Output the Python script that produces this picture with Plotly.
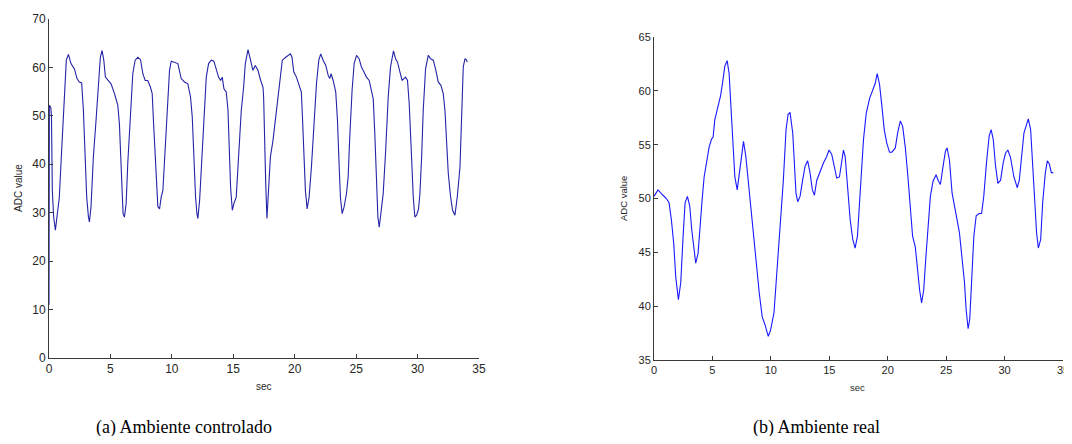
import plotly.graph_objects as go

# page body has an 8px margin: figure is placed at (8, 8) in the window
OX, OY = 8, 8
W, H = 1064, 428

# ---- Data: (a) Ambiente controlado ----
t_a = [0.0, 0.03, 0.14, 0.2, 0.27, 0.38, 0.52, 0.65, 0.84, 1.03, 1.2, 1.3, 1.41, 1.58, 1.79, 2.07, 2.28, 2.47, 2.66,
       2.8, 2.93, 3.07, 3.21, 3.29, 3.42, 3.61, 3.83, 4.02, 4.18, 4.32, 4.46, 4.59, 4.84, 5.05, 5.33, 5.6, 5.73, 5.82,
       5.92, 6.03, 6.14, 6.28, 6.41, 6.63, 6.82, 7.01, 7.23, 7.45, 7.64, 7.83, 8.04, 8.26, 8.4, 8.5, 8.64, 8.78, 8.86,
       9.0, 9.13, 9.27, 9.46, 9.62, 9.81, 9.95, 10.22, 10.49, 10.76, 11.03, 11.3, 11.52, 11.66, 11.79, 11.93, 12.04,
       12.12, 12.26, 12.39, 12.58, 12.8, 12.99, 13.21, 13.42, 13.64, 13.8, 13.97, 14.1, 14.24, 14.43, 14.57, 14.7,
       14.78, 14.92, 15.05, 15.24, 15.43, 15.65, 15.84, 15.98, 16.2, 16.39, 16.6, 16.79, 17.01, 17.23, 17.42,
       17.47, 17.55, 17.64, 17.74, 17.85, 18.02, 18.23, 18.42, 18.64, 18.83, 18.99, 19.27, 19.46, 19.65, 19.78,
       19.92, 20.14, 20.35, 20.54, 20.63, 20.73, 20.87, 21.01, 21.17, 21.36, 21.55, 21.77, 21.96, 22.12, 22.31,
       22.53, 22.72, 22.85, 22.96, 23.13, 23.34, 23.48, 23.61, 23.72, 23.86, 24.02, 24.21, 24.35, 24.48, 24.67,
       24.84, 25.03, 25.24, 25.43, 25.63, 25.84, 26.06, 26.25, 26.39, 26.52, 26.66, 26.77, 26.88, 27.01, 27.2,
       27.39, 27.61, 27.8, 27.96, 28.04, 28.21, 28.37, 28.56, 28.75, 28.89, 29.02, 29.18, 29.32, 29.51, 29.65,
       29.78, 29.92, 30.08, 30.19, 30.33, 30.46, 30.65, 30.87, 31.06, 31.28, 31.49, 31.68, 31.9, 32.09, 32.23,
       32.36, 32.5, 32.69, 32.85, 33.04, 33.23, 33.45, 33.58, 33.72, 33.86, 33.99, 34.04]
v_a = [11.0, 52.2, 51.8, 50.0, 34.6, 29.1, 26.4, 29.1, 33.2, 42.9, 51.1, 56.6, 61.5, 62.7, 60.8, 59.7, 57.7, 57.0, 56.8,
       51.1, 41.5, 33.2, 29.1, 28.1, 31.2, 41.5, 49.1, 55.9, 62.1, 63.5, 61.5, 58.0, 57.3, 56.6, 54.6, 52.2, 48.4, 42.9,
       34.6, 29.8, 29.1, 31.9, 40.1, 51.1, 58.7, 61.5, 62.1, 61.6, 58.7, 57.3, 57.3, 55.9, 54.6, 49.1, 42.2, 34.6, 31.2,
       30.8, 33.2, 34.6, 42.9, 51.8, 59.4, 61.3, 61.1, 60.8, 57.7, 57.0, 56.6, 53.9, 49.8, 41.5, 33.2, 29.8,
       28.8, 32.6, 39.4, 47.7, 58.0, 60.8, 61.5, 61.3, 59.4, 58.0, 57.3, 58.0, 55.6, 54.9, 51.1, 41.5,
       35.3, 30.5, 31.9, 33.2, 40.8, 51.1, 55.9, 60.8, 63.7, 61.5, 59.4, 60.4, 59.4, 57.3, 55.9,
       53.9, 44.3, 36.0, 28.8, 33.2, 41.5, 44.9, 49.1, 53.9, 58.7, 61.5, 62.1, 62.5, 62.8, 62.1,
       59.1, 58.0, 56.6, 54.9, 49.8, 41.5, 34.6, 30.8, 33.2, 39.4, 48.4, 56.6, 61.5, 62.8, 61.5,
       60.4, 58.4, 57.7, 58.7, 57.3, 54.9, 49.1, 40.1, 33.2, 29.8, 31.2, 33.9, 37.4, 45.6, 55.3,
       60.8, 62.5, 61.8, 60.1, 59.1, 58.0, 57.3, 55.3, 53.5, 46.3, 34.6, 29.1, 27.0, 29.8, 33.9,
       42.2, 53.9, 60.1, 62.5, 63.4, 61.8, 61.1, 59.1, 57.3, 57.7, 58.0, 57.3, 52.5, 41.5, 33.2,
       29.1, 29.5, 30.8, 33.9, 41.5, 51.1, 59.7, 62.5, 61.8, 61.5, 59.4, 57.0, 56.3, 54.6, 51.1,
       44.3, 38.1, 33.2, 30.5, 29.5, 33.2, 39.4, 51.1, 60.1, 61.8, 61.5, 61.1]

# ---- Data: (b) Ambiente real ----
t_b = [0.0, 0.34, 0.77, 1.06, 1.29, 1.49, 1.69, 1.86, 2.09, 2.29, 2.49, 2.66, 2.86, 3.06, 3.23, 3.4, 3.57, 3.77, 3.92,
       4.12, 4.29, 4.49, 4.72, 4.92, 5.06, 5.2, 5.49, 5.69, 5.86, 6.06, 6.26, 6.43, 6.58, 6.72, 6.92, 7.12, 7.29, 7.49,
       7.66, 7.86, 8.06, 8.26, 8.49, 8.72, 9.01, 9.26, 9.49, 9.78, 9.98, 10.27, 10.49, 10.78, 11.07, 11.3, 11.47,
       11.64, 11.87, 12.01, 12.15, 12.3, 12.5, 12.72, 12.93, 13.15, 13.35, 13.55, 13.73, 13.93, 14.21, 14.5, 14.78,
       14.98, 15.21, 15.41, 15.64, 15.87, 16.07, 16.21, 16.36, 16.56, 16.79, 17.01, 17.21, 17.41, 17.64, 17.93,
       18.16, 18.45, 18.73, 18.93, 19.1, 19.3, 19.5, 19.7, 19.93, 20.16, 20.36, 20.65, 20.85, 21.08, 21.28, 21.5,
       21.73, 21.93, 22.13, 22.36, 22.56, 22.73, 22.9, 23.08, 23.25, 23.45, 23.65, 23.88, 24.14, 24.31, 24.51,
       24.74, 24.94, 25.08, 25.28, 25.51, 25.74, 25.94, 26.14, 26.37, 26.57, 26.71, 26.88, 27.02, 27.17, 27.37,
       27.57, 27.8, 28.03, 28.22, 28.45, 28.68, 28.85, 29.03, 29.23, 29.43, 29.66, 29.88, 30.08, 30.28, 30.51,
       30.8, 31.09, 31.26, 31.46, 31.66, 31.86, 32.03, 32.23, 32.4, 32.57, 32.74, 32.89, 33.09, 33.26, 33.49,
       33.66, 33.83, 34.0, 34.17]
v_b = [50.2, 50.8, 50.3, 50.0, 49.6, 48.0, 45.8, 42.7, 40.6, 42.2, 46.5, 49.6, 50.2, 49.3, 47.1, 45.2, 44.0, 44.9, 47.4,
       49.9, 52.0, 53.3, 54.8, 55.5, 55.7, 57.3, 58.6, 59.5, 60.7, 62.3, 62.8, 61.6, 58.6, 55.5, 52.0, 50.8, 52.4, 54.2,
       55.3, 53.9, 51.7, 49.3, 46.5, 44.0, 41.2, 39.0, 38.3, 37.2, 37.8, 39.4, 42.8, 46.5, 51.7, 56.4, 57.8,
       58.0, 56.1, 53.3, 50.5, 49.7, 50.2, 51.7, 53.0, 53.5, 52.4, 50.8, 50.3, 51.7, 52.5, 53.3, 53.9,
       54.5, 54.1, 53.0, 51.9, 52.0, 53.6, 54.5, 53.9, 51.4, 48.0, 46.2, 45.4, 46.5, 50.8, 55.5,
       57.9, 59.3, 60.1, 60.7, 61.6, 60.6, 58.6, 56.4, 55.1, 54.3, 54.3, 54.7, 56.1, 57.2, 56.7, 54.8,
       52.0, 48.9, 46.5, 45.5, 43.3, 41.5, 40.3, 41.5, 44.3, 47.7, 50.2, 51.6, 52.2, 51.7, 51.3,
       53.0, 54.4, 54.7, 53.6, 50.5, 49.3, 48.0, 46.8, 44.6, 42.2, 39.7, 37.9, 38.8, 42.2, 46.5,
       48.4, 48.6, 48.6, 50.2, 53.3, 55.8, 56.4, 55.5, 53.0, 51.4, 51.7, 53.3, 54.2, 54.5, 53.8,
       52.0, 51.0, 51.7, 53.9, 56.1, 56.8, 57.4, 56.4, 53.3, 49.9, 46.8, 45.4, 46.2, 49.6, 52.4,
       53.5, 53.2, 52.4, 52.4]

x_ticks = [0, 5, 10, 15, 20, 25, 30, 35]
y_ticks_a = [0, 10, 20, 30, 40, 50, 60, 70]
y_ticks_b = [35, 40, 45, 50, 55, 60, 65]

AX = "#3a3a3a"
TXT = "#262626"

fig = go.Figure()
fig.add_trace(go.Scatter(x=t_a, y=v_a, mode="lines", line=dict(color="#2424a8", width=1.1),
                         xaxis="x", yaxis="y", showlegend=False, hoverinfo="skip"))
fig.add_trace(go.Scatter(x=t_b, y=v_b, mode="lines", line=dict(color="#1a1aff", width=1.1),
                         xaxis="x2", yaxis="y2", showlegend=False, hoverinfo="skip"))


def fx(px):
    return (px - OX) / W


def fy(py):
    return (H - (py - OY)) / H


common = dict(showline=True, linecolor=AX, linewidth=1, ticks="inside", ticklen=4, tickcolor=AX,
              showgrid=False, zeroline=False, mirror=False, automargin=False)

fig.update_layout(
    width=W, height=H, margin=dict(l=0, r=0, t=0, b=0),
    paper_bgcolor="white", plot_bgcolor="white",
    xaxis=dict(domain=[fx(49), fx(479)], range=[0, 35], tickvals=x_ticks, anchor="y",
               tickfont=dict(family="Liberation Sans, Arial", size=12, color=TXT), **common),
    yaxis=dict(domain=[fy(358), fy(19)], range=[0, 70], tickvals=y_ticks_a, anchor="x",
               tickfont=dict(family="Liberation Sans, Arial", size=12, color=TXT), **common),
    xaxis2=dict(domain=[fx(654), fx(1063)], range=[0, 35], tickvals=x_ticks, anchor="y2",
                tickfont=dict(family="Liberation Sans, Arial", size=11, color=TXT), **common),
    yaxis2=dict(domain=[fy(360), fy(37)], range=[35, 65], tickvals=y_ticks_b, anchor="x2",
                tickfont=dict(family="Liberation Sans, Arial", size=11, color=TXT), **common),
)

ann_font = dict(family="Liberation Sans, Arial", size=10, color=TXT)
annotations = [
    dict(text="ADC value", x=fx(18), y=fy(188), textangle=-90, font=ann_font),
    dict(text="sec", x=fx(264), y=fy(386), font=ann_font),
    dict(text="ADC value", x=fx(623), y=fy(199), textangle=-90, font=dict(ann_font, size=9.5)),
    dict(text="sec", x=fx(857), y=fy(387), font=dict(ann_font, size=9.5)),
    dict(text="(a) Ambiente controlado", x=fx(184), y=fy(427),
         font=dict(family="Liberation Serif, DejaVu Serif", size=18, color="black")),
    dict(text="(b) Ambiente real", x=fx(816), y=fy(427),
         font=dict(family="Liberation Serif, DejaVu Serif", size=18, color="black")),
]
for a in annotations:
    a.update(xref="paper", yref="paper", showarrow=False, xanchor="center", yanchor="middle")
fig.update_layout(annotations=annotations)

fig.write_html("out.html")
